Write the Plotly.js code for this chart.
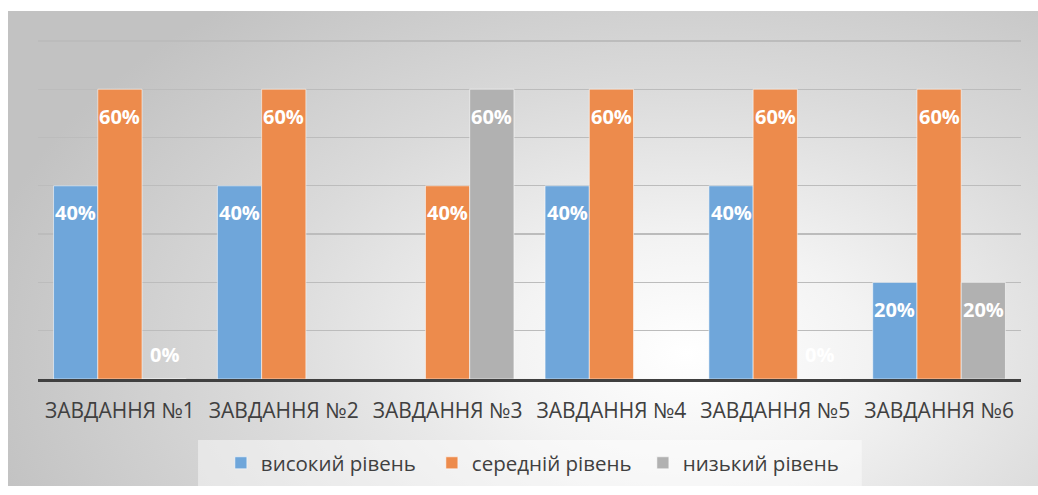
<!DOCTYPE html>
<html>
<head>
<meta charset="utf-8">
<script src="https://cdn.plot.ly/plotly-3.0.1.min.js"></script>
<style>
  html, body { margin: 0; padding: 0; background: #ffffff; }
  #wrap { position: relative; width: 1038px; height: 495px; overflow: hidden; }
  #bg { position: absolute; left: 8px; top: 11px; width: 1030px; height: 475px;
        background: radial-gradient(ellipse 70% 95% at 66% 72%, #ffffff 0%, #f3f3f3 25%, #dadada 60%, #c2c2c2 100%); }
  #chart { position: absolute; left: 0; top: 0; width: 1038px; height: 495px; }
</style>
</head>
<body>
<div id="wrap"><div id="bg"></div><div id="chart"></div></div>
<script>
const categories = ['ЗАВДАННЯ №1', 'ЗАВДАННЯ №2', 'ЗАВДАННЯ №3', 'ЗАВДАННЯ №4', 'ЗАВДАННЯ №5', 'ЗАВДАННЯ №6'];
const seriesNames = ['високий рівень', 'середній рівень', 'низький рівень'];
const highLevel = [40, 40, null, 40, 40, 20];
const midLevel  = [60, 60, 40, 60, 60, 60];
const lowLevel  = [0, null, 60, null, 0, 20];
const seriesColors = ['#6fa6da', '#ed8b4c', '#b1b1b1'];

const allSeries = [highLevel, midLevel, lowLevel];
const bargap = 0.19;
const barW = (1 - bargap) / allSeries.length;
const textFont = 'Open Sans, Noto Sans, sans-serif';

const traces = allSeries.map((vals, i) => ({
  type: 'bar',
  name: seriesNames[i],
  x: categories,
  y: vals,
  marker: { color: seriesColors[i], line: { color: 'rgba(255,255,255,0.55)', width: 1 } },
  hoverinfo: 'skip'
}));

const annotations = [];
allSeries.forEach((vals, i) => {
  vals.forEach((v, j) => {
    if (v === null) return;
    annotations.push({
      xref: 'x', yref: 'y',
      x: j + (i - (allSeries.length - 1) / 2) * barW,
      y: v,
      yshift: v > 0 ? -27 : 25,
      text: v + '%',
      showarrow: false,
      font: { family: textFont, size: 20, color: '#ffffff', weight: 'bold' }
    });
  });
});

const layout = {
  width: 1038, height: 495,
  margin: { l: 38, r: 17, t: 39, b: 116, pad: 0 },
  paper_bgcolor: 'rgba(0,0,0,0)',
  plot_bgcolor: 'rgba(0,0,0,0)',
  barmode: 'group',
  bargap: bargap,
  bargroupgap: 0,
  font: { family: textFont, color: '#404040' },
  xaxis: {
    type: 'category',
    showline: true, linecolor: '#404040', linewidth: 3,
    ticks: '', showgrid: false,
    ticklabelstandoff: 11,
    tickfont: { family: textFont, size: 21, color: '#404040' },
    fixedrange: true
  },
  yaxis: {
    range: [0, 70.4], dtick: 10, tick0: 0,
    showticklabels: false, ticks: '',
    showgrid: true, gridcolor: '#bcbcbc', gridwidth: 1.3,
    zeroline: false, showline: false,
    fixedrange: true
  },
  showlegend: true,
  legend: {
    orientation: 'h', x: 0.508, xanchor: 'center', y: -0.247, yanchor: 'middle',
    bgcolor: 'rgba(0,0,0,0)',
    entrywidth: 166, entrywidthmode: 'pixels',
    font: { family: textFont, size: 20.5, color: '#404040' },
    traceorder: 'normal'
  },
  shapes: [{
    type: 'rect', xref: 'paper', yref: 'paper', layer: 'below',
    x0: 0.1628, x1: 0.838, y0: -0.3147, y1: -0.1794,
    fillcolor: 'rgba(255,255,255,0.45)', line: { width: 0 }
  }],
  annotations: annotations
};

Plotly.newPlot('chart', traces, layout, { displayModeBar: false, staticPlot: true });
</script>
</body>
</html>
